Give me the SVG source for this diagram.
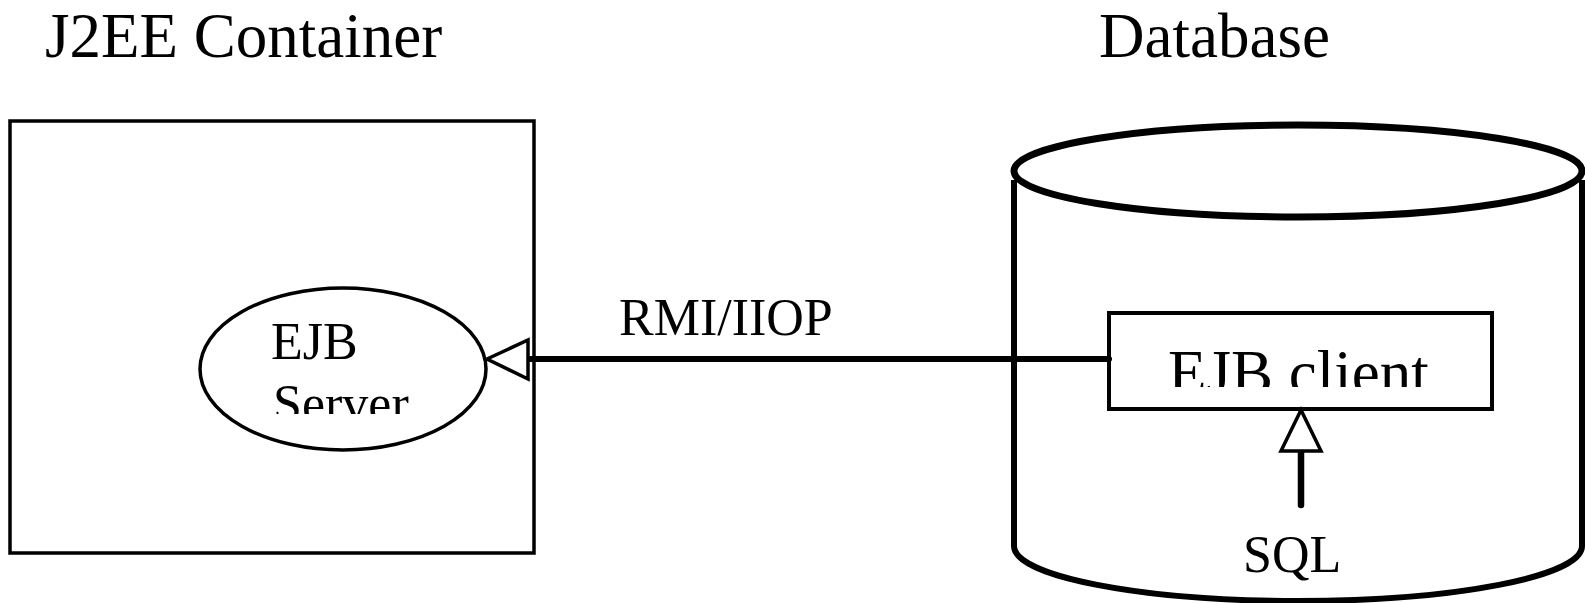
<svg xmlns="http://www.w3.org/2000/svg" width="1585" height="603" viewBox="0 0 1585 603">
<style>
text{font-family:"Liberation Serif","Times New Roman",serif;fill:#000}
.title{font-size:63px}
.lbl{font-size:52px}
.shape{fill:#fff;stroke:#000}
.conn{stroke:#000;fill:none;stroke-linecap:round}
.head{fill:#fff;stroke:#000;stroke-width:3.5;stroke-linejoin:miter}
</style>
<defs>
<clipPath id="clipServer"><rect x="200" y="280" width="290" height="134"/></clipPath>
<clipPath id="clipClient"><rect x="1110" y="314" width="380" height="73"/></clipPath>
</defs>
<rect width="1585" height="603" fill="#fff"/>
<text class="title" x="45" y="57">J2EE Container</text>
<text class="title" x="1099" y="57">Database</text>
<g id="container">
<rect class="shape" x="10" y="121" width="524" height="432" stroke-width="3.5"/>
</g>
<g id="ejb-server">
<ellipse class="shape" cx="343" cy="369" rx="143" ry="81" stroke-width="3.5"/>
<g clip-path="url(#clipServer)">
<text class="lbl" x="271" y="359">EJB</text>
<text class="lbl" x="273" y="421">Server</text>
</g>
</g>
<g id="database">
<path d="M1014,180 L1014,546 A284,55 0 0 0 1582,546 L1582,180" fill="#fff" stroke="#000" stroke-width="6"/>
<ellipse cx="1298" cy="171" rx="284" ry="46" fill="#fff" stroke="#000" stroke-width="7"/>
</g>
<g id="ejb-client">
<rect class="shape" x="1109" y="313" width="383" height="96" stroke-width="4"/>
<g clip-path="url(#clipClient)">
<text class="title" x="1168" y="394">EJB client</text>
</g>
</g>
<g id="connectors">
<line class="conn" x1="1109" y1="359" x2="526" y2="359" stroke-width="6"/>
<polygon class="head" points="487,359 528,340 528,379"/>
<line class="conn" x1="1301" y1="505" x2="1301" y2="452" stroke-width="6.5"/>
<polygon class="head" points="1301,410 1281,451 1321,451"/>
</g>
<text class="lbl" x="619" y="335">RMI/IIOP</text>
<text class="lbl" x="1243" y="572">SQL</text>
</svg>
